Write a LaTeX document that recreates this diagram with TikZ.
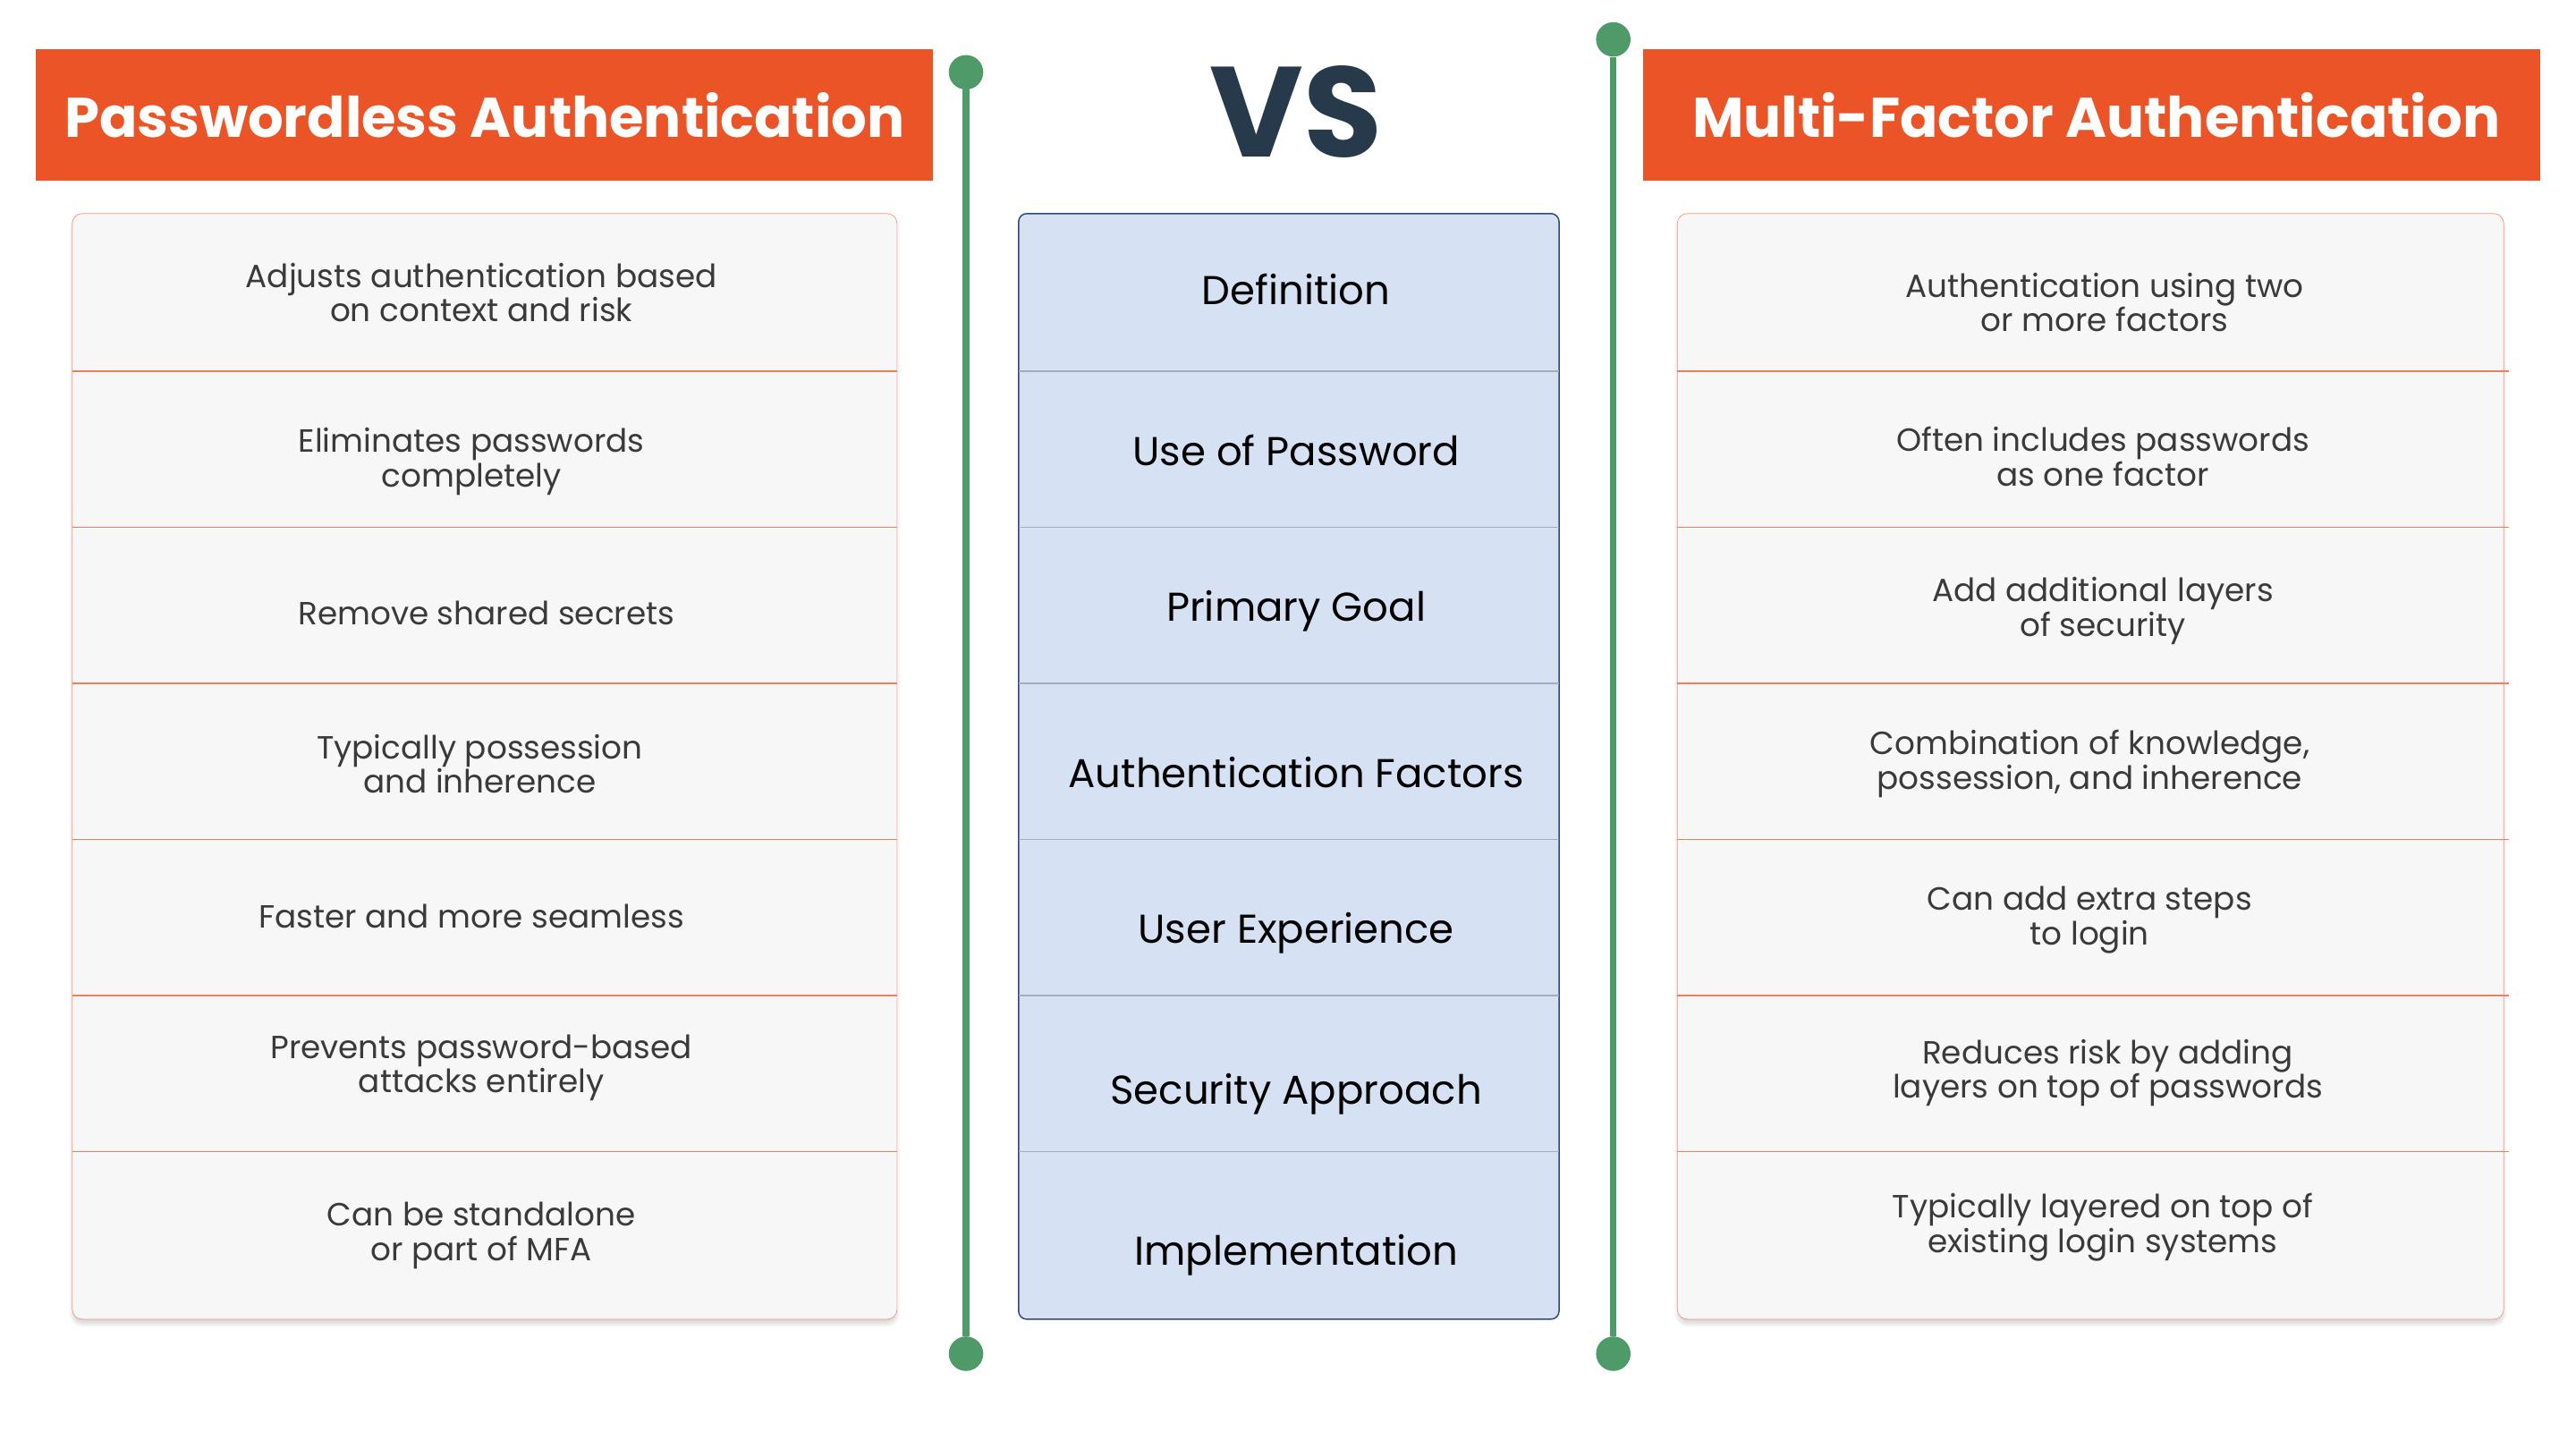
\documentclass[tikz,border=0pt]{standalone}
\usepackage{fontspec}
\setmainfont{Poppins}
\usetikzlibrary{shadows.blur}
\definecolor{org}{HTML}{EA5426}
\definecolor{grn}{HTML}{4E9A68}
\definecolor{navy}{HTML}{263A4C}
\definecolor{cellb}{HTML}{D7E1F4}
\definecolor{cellline}{HTML}{2E4A78}
\definecolor{txt}{HTML}{3A3A3A}
\begin{document}
\begin{tikzpicture}[x=1pt,y=-1pt,
  hdr/.style={fill=org,draw=none,text=white,font=\fontsize{34}{40}\selectfont\bfseries},
  cell/.style={text=txt,align=center,font=\fontsize{19.5}{21}\selectfont},
  mid/.style={text=black,font=\fontsize{24.5}{28}\selectfont},
  dot/.style={circle,fill=grn,inner sep=0pt,minimum size=21pt}]
\useasboundingbox (0,0) rectangle (1568,882);
% headers
\fill[org] (22,30) rectangle (568,110);
\fill[org] (1000,30) rectangle (1546,110);
\node[hdr] (lh) at (295,70) {Passwordless Authentication};
\node[hdr] (rh) at (1276,70) {Multi-Factor Authentication};
\node[text=navy,font=\fontsize{78}{80}\selectfont\bfseries] (vs) at (789,68) {VS};
% green lines
\node[dot] (d1) at (588,44) {};
\node[dot] (d2) at (588,824) {};
\node[dot] (d3) at (982,24) {};
\node[dot] (d4) at (982,824) {};
\draw[grn,line width=4pt] (d1) -- (d2);
\draw[grn,line width=4pt] (d3) -- (d4);
% tables
\draw[draw=org!60,fill=white!97!black,rounded corners=6pt,blur shadow={shadow blur steps=8,shadow xshift=0pt,shadow yshift=-3pt,shadow opacity=15}] (44,130) rectangle (546,803);
\draw[draw=org!60,fill=white!97!black,rounded corners=6pt,blur shadow={shadow blur steps=8,shadow xshift=0pt,shadow yshift=-3pt,shadow opacity=15}] (1021,130) rectangle (1524,803);
\draw[draw=cellline,fill=cellb,rounded corners=5pt,line width=0.8pt] (620,130) rectangle (949,803);
\foreach \y in {226,321,416,511,606,701}{
  \draw[org!75,line width=0.8pt] (44,\y) -- (546,\y);
  \draw[org!75,line width=0.8pt] (1021,\y) -- (1527,\y);
  \draw[cellline!45,line width=0.8pt] (620,\y) -- (949,\y);
}
% left texts
\node[cell] (l1) at (293,178) {Adjusts authentication based\\on context and risk};
\node[cell] (l2) at (287,281) {Eliminates passwords\\completely};
\node[cell] (l3) at (296,373) {Remove shared secrets};
\node[cell] (l4) at (292,465) {Typically possession\\and inherence};
\node[cell] (l5) at (287,558) {Faster and more seamless};
\node[cell] (l6) at (293,650) {Prevents password-based\\attacks entirely};
\node[cell] (l7) at (293,752) {Can be standalone\\or part of MFA};
% middle
\node[mid] (m1) at (789,176) {Definition};
\node[mid] (m2) at (789,274) {Use of Password};
\node[mid] (m3) at (789,372) {Primary Goal};
\node[mid] (m4) at (789,470) {Authentication Factors};
\node[mid] (m5) at (789,568) {User Experience};
\node[mid] (m6) at (789,666) {Security Approach};
\node[mid] (m7) at (789,764) {Implementation};
% right texts
\node[cell] (r1) at (1281,184) {Authentication using two\\or more factors};
\node[cell] (r2) at (1280,278) {Often includes passwords\\as one factor};
\node[cell] (r3) at (1280,372) {Add additional layers\\of security};
\node[cell] (r4) at (1272,465) {Combination of knowledge,\\possession, and inherence};
\node[cell] (r5) at (1272,560) {Can add extra steps\\to login};
\node[cell] (r6) at (1283,653) {Reduces risk by adding\\layers on top of passwords};
\node[cell] (r7) at (1280,747) {Typically layered on top of\\existing login systems};
\end{tikzpicture}
\end{document}
